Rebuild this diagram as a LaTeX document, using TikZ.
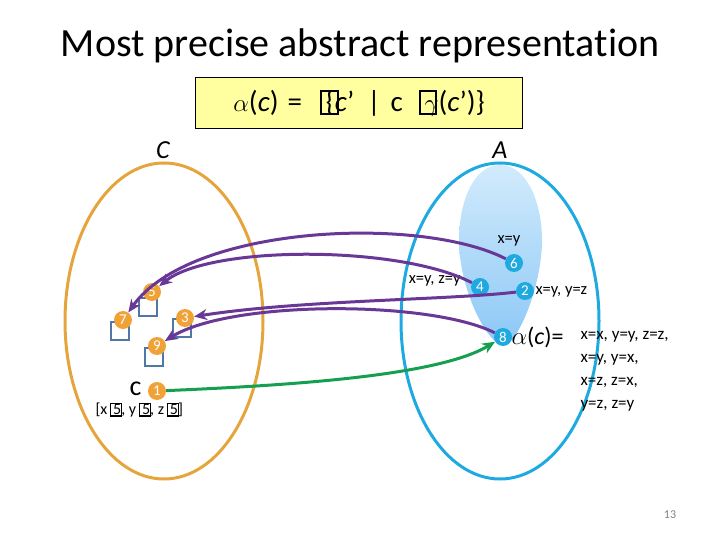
\documentclass[tikz,border=0pt]{standalone}
\usepackage{fontspec}
\setmainfont{Carlito}[Ligatures=NoCommon]
\usetikzlibrary{arrows.meta}
\definecolor{orangeC}{RGB}{230,165,60}
\definecolor{orangeDot}{RGB}{240,162,55}
\definecolor{blueA}{RGB}{30,170,225}
\definecolor{lightTop}{RGB}{210,235,252}
\definecolor{lightBot}{RGB}{140,200,246}
\definecolor{purpleArr}{RGB}{105,55,150}
\definecolor{greenArr}{RGB}{20,160,80}
\definecolor{boxblue}{RGB}{80,120,165}
\definecolor{formulabg}{RGB}{255,255,160}
% square drawn where the font had no glyph
\newcommand{\nobox}[1][0.5em]{\makebox[0.2em][l]{\setlength{\fboxsep}{0pt}\setlength{\fboxrule}{0.07em}\raisebox{-0.05em}{\fbox{\rule{0pt}{0.72em}\hspace{#1}}}}}
\newcommand{\fs}[1]{\fontsize{#1}{#1}\selectfont}

\begin{document}
\begin{tikzpicture}[x=1pt, y=-1pt,
  cdot/.style={circle, fill=orangeDot, minimum size=18pt, inner sep=0pt, text=white, font=\fs{15}},
  adot/.style={circle, fill=blueA, minimum size=18pt, inner sep=0pt, text=white, font=\fs{15}},
  cell/.style={draw=boxblue, line width=2pt, minimum size=18pt, inner sep=0pt},
  back/.style={-{Stealth[length=13pt, width=11pt]}, purpleArr, line width=3pt},
  small/.style={font=\fs{16.5}}]
  \useasboundingbox (0,0) rectangle (720,540);
  % title and formula
  \node[font=\fs{40}] (title) at (360,46) {Most precise abstract representation};
  \node[draw=black, fill=formulabg, minimum width=327pt, minimum height=51pt, font=\fs{29}] (formula) at (359,103)
    {$\alpha$(\textit{c})\hspace{9pt}=\hspace{18pt}\nobox\{\textit{c}’\hspace{13pt}|\hspace{10pt}c\hspace{16pt}\nobox$\gamma$(\textit{c}’)\}};
  % the two sets
  \shade[top color=lightTop, bottom color=lightBot]
    (500,165) .. controls (528,165) and (542,205) .. (542,240)
    .. controls (542,285) and (518,345) .. (503,345)
    .. controls (488,345) and (459,290) .. (459,240)
    .. controls (459,205) and (472,165) .. cycle;
  \draw[orangeC, line width=3pt] (164,321) ellipse [x radius=99pt, y radius=158pt];
  \draw[blueA, line width=3pt] (500,321) ellipse [x radius=99pt, y radius=158pt];
  \node[font=\fs{26}\itshape] (setC) at (163,150) {C};
  \node[font=\fs{26}\itshape] (setA) at (500,150) {A};
  % concrete states
  \node[cell] (q5) at (148,307) {};
  \node[cell] (q7) at (120,331) {};
  \node[cell] (q3) at (182,328) {};
  \node[cell] (q9) at (154,357) {};
  \node[cdot] (c5) at (152,292) {5};
  \node[cdot] (c7) at (123,320) {7};
  \node[cdot] (c3) at (185,318) {3};
  \node[cdot] (c9) at (157,346) {9};
  \node[cdot] (c1) at (157,391) {1};
  \node[font=\fs{28}, anchor=east] (cname) at (145,389) {c};
  \node[font=\fs{16}, anchor=west] (cval) at (92,410)
    {[x\,\nobox[0.62em]5, y\,\nobox[0.62em]5, z\,\nobox[0.62em]5]};
  % abstract states
  \node[adot] (a6) at (514,263) {6};
  \node[adot] (a4) at (480,287) {4};
  \node[adot] (a2) at (525,291) {2};
  \node[adot] (a8) at (503,337) {8};
  \node[small] at (509,241) {x=y};
  \node[small, anchor=east] at (464,281) {x=y, z=y};
  \node[small, anchor=west] at (532,292) {x=y, y=z};
  \node[font=\fs{24}, anchor=west] (alpha) at (508,337) {$\alpha$(\textit{c})=};
  \node[anchor=north west, align=left, font=\fontsize{17}{23}\selectfont] (list) at (577,328)
    {x=x, y=y, z=z,\\ x=y, y=x,\\ x=z, z=x,\\ y=z, z=y};
  % concretisation arrows
  \draw[back] (a6) .. controls +(-94,-48) and +(67,-95) .. (c7);
  \draw[back] (a4) .. controls +(-80,-42) and +(58,-47) .. (c5);
  \draw[back] (a2) .. controls +(-75,9) and +(115,-18) .. (c3);
  \draw[back] (a8) .. controls +(-73,-37) and +(73,-46) .. (c9);
  \draw[-{Stealth[length=13pt, width=11pt]}, greenArr, line width=3pt]
    (c1) .. controls +(143,-6) and +(-63,38) .. (a8);
  % page number
  \node[font=\fs{12}, text=gray] (page) at (670,515) {13};
\end{tikzpicture}
\end{document}
